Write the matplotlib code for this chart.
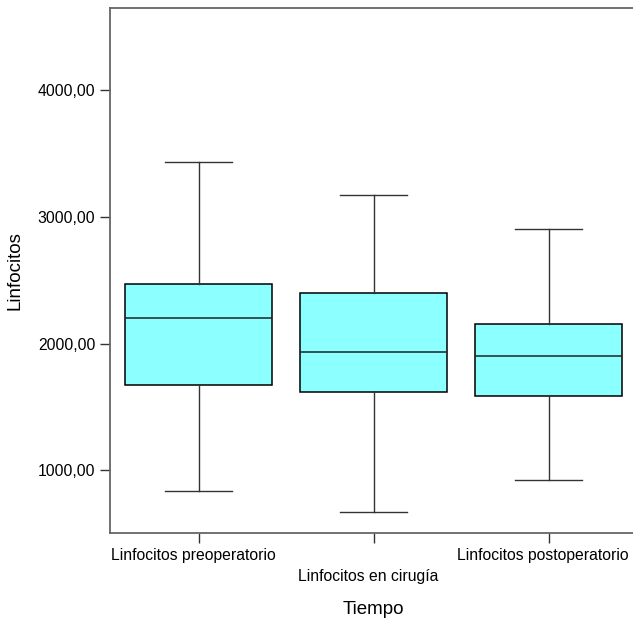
import matplotlib
matplotlib.use("Agg")
import matplotlib.pyplot as plt
import matplotlib.transforms as mtransforms

plt.rcParams['font.family'] = ['Liberation Sans', 'DejaVu Sans']

# Lymphocyte counts per time point (box summary)
categorias = ['Linfocitos preoperatorio', 'Linfocitos en cirugía', 'Linfocitos postoperatorio']
bigote_inf = [841, 673, 927]
cuartil_1 = [1673, 1618, 1588]
mediana = [2201, 1931, 1901]
cuartil_3 = [2472, 2398, 2156]
bigote_sup = [3431, 3173, 2903]

stats = []
for i, nombre in enumerate(categorias):
    stats.append({
        'label': nombre,
        'whislo': bigote_inf[i],
        'q1': cuartil_1[i],
        'med': mediana[i],
        'q3': cuartil_3[i],
        'whishi': bigote_sup[i],
        'fliers': [],
    })

fig = plt.figure(figsize=(6.33, 6.23), dpi=100)
ax = fig.add_axes([0.1738, 0.1445, 0.8332, 0.8427])

ax.bxp(stats, positions=[0, 1, 2], widths=0.843, capwidths=0.38,
       patch_artist=True, showfliers=False,
       boxprops=dict(facecolor='#8cffff', edgecolor='black', linewidth=1.1),
       medianprops=dict(color='#222222', linewidth=1.1),
       whiskerprops=dict(color='#333333', linewidth=1.0),
       capprops=dict(color='#333333', linewidth=1.0))

ax.set_xlim(-0.507, 2.507)
ax.set_ylim(507, 4647)
ax.set_yticks([1000, 2000, 3000, 4000])
ax.set_yticklabels(['1000,00', '2000,00', '3000,00', '4000,00'])
ax.set_xticks([0, 1, 2])
ax.set_xticklabels(categorias)

ax.tick_params(axis='both', length=7.5, width=1.0, color='#333333',
               labelsize=11.3, pad=3)
# middle category label sits on a second row
ax.xaxis.get_major_ticks()[1].set_pad(18.5)

# category labels sit a little left of their ticks
desplaza = mtransforms.ScaledTranslation(-5.5 / 100, 0, fig.dpi_scale_trans)
for etiqueta in ax.get_xticklabels():
    etiqueta.set_transform(etiqueta.get_transform() + desplaza)

for lado in ['top', 'left', 'bottom']:
    ax.spines[lado].set_color('#666666')
    ax.spines[lado].set_linewidth(1.3)
ax.spines['right'].set_visible(False)

ax.set_xlabel('Tiempo', fontsize=13.5, labelpad=12)
ax.set_ylabel('Linfocitos', fontsize=13.5, labelpad=10)

fig.savefig('out.png', dpi=100, facecolor='white')
